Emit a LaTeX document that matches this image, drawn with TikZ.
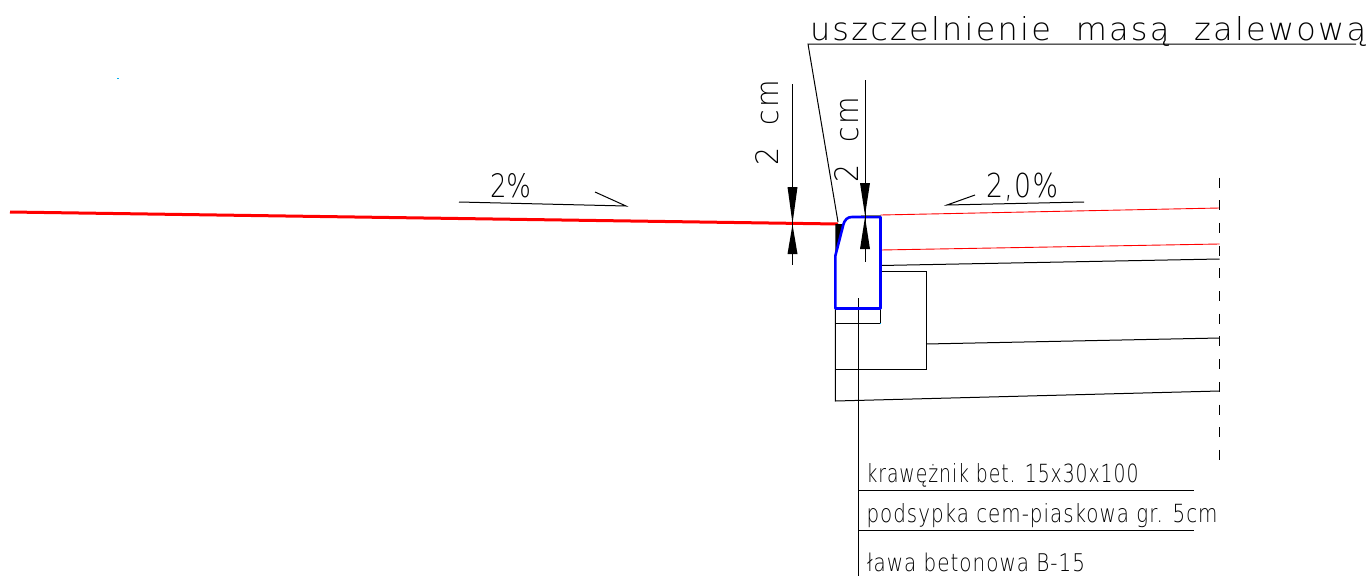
\documentclass[tikz,border=0pt]{standalone}
\usepackage{fontspec}
\usepackage{graphicx}
\setmainfont{DejaVu Sans}[UprightFont=* ExtraLight]
\newcommand{\fitt}[3]{\resizebox{#1pt}{#2pt}{#3}}
\newcommand{\wide}[1]{{\addfontfeature{LetterSpace=7}#1}}
\newcommand{\airy}[1]{{\addfontfeature{LetterSpace=5}#1}}
\tikzset{
  thinline/.style={draw=black,line width=1pt},
  redthin/.style={draw=red,line width=0.9pt},
  redthick/.style={draw=red,line width=3pt},
  curb/.style={draw=blue,line width=2.6pt,line join=round},
  head/.style={fill=black,draw=none},
  lbl/.style={anchor=base west,inner sep=0pt,outer sep=0pt,text=black},
  cutline/.style={draw=black,line width=1pt,dash pattern=on 10pt off 12.7pt},
}
\begin{document}
\begin{tikzpicture}[x=1pt,y=-1pt]
\useasboundingbox (0,0) rectangle (1369,576);
\fill[white] (0,0) rectangle (1369,576);
% reference points
\coordinate (roadL) at (10,212);
\coordinate (roadR) at (838,224);
\coordinate (cTR) at (880.5,217);
\coordinate (cBR) at (880.5,308.5);
\coordinate (cBL) at (835.3,308.5);
% layers to the right
\draw[redthin] (880.5,215) -- (1219.5,208);
\draw[redthin] (880.5,250) -- (1219.5,244);
\draw[thinline] (880.5,265.5) -- (1219.5,259);
\draw[thinline] (880.5,271.5) -- (926,271.5) -- (926,369) -- (835.3,369);
\draw[thinline] (926,344) -- (1219.5,338);
\draw[thinline] (835.3,308.5) -- (835.3,401) -- (1219.5,391);
\draw[thinline] (835.3,323.5) -- (880.5,323.5) -- (cBR);
\draw[cutline] (1219.5,177.5) -- (1219.5,460);
% road
\draw[redthick] (roadL) -- (roadR);
% sealant wedge
\fill[black] (835.3,224) -- (843.5,224) -- (835.3,256) -- cycle;
% leaders
\draw[thinline] (1356,44) -- (808,44) -- (838,222);
\draw[thinline] (858,298) -- (858,576);
\draw[thinline] (858,490) -- (1194,490);
\draw[thinline] (858,530) -- (1194,530);
% kerb
\draw[curb] (cBL) -- (835.3,256) -- (843,226) .. controls (844.5,219) and (848,217) .. (852,217) -- (cTR) -- (cBR) -- cycle;
% slope marks
\draw[thinline] (459,202) -- (626,206) -- (595,192);
\draw[thinline] (975,195) -- (947,205) -- (1084,202);
% dimensions
\draw[thinline] (792.5,84) -- (792.5,265);
\fill[head] (787.5,187) -- (797.5,187) -- (792.5,223.5) -- cycle;
\fill[head] (787.5,254) -- (797.5,254) -- (792.5,224.5) -- cycle;
\draw[thinline,draw=black!55] (861,215) -- (880.5,215);
\draw[thinline] (865,80) -- (865,262);
\fill[head] (860,183) -- (870,183) -- (865,215.5) -- cycle;
\fill[head] (860,249) -- (870,249) -- (865,217) -- cycle;
% tiny cyan points
\fill[cyan] (116.5,77.5) rectangle (118.5,79);
\fill[cyan] (880,323) rectangle (881,324);
% labels
\node[lbl] (seal) at (810,40) {\fitt{556}{24}{\wide{uszczelnienie\ \ masą\ \ zalewową}}};
\node[lbl] (s1) at (490,197) {\fitt{41}{24}{2\%}};
\node[lbl] (s2) at (986,197.5) {\fitt{72}{24.5}{\airy{2,0\%}}};
\node[lbl,rotate=90] (d1) at (778,165) {\fitt{85}{23}{\wide{2\ \ cm}}};
\node[lbl,rotate=90] (d2) at (858,182) {\fitt{85}{24}{\wide{2\ \ cm}}};
\node[lbl] (t1) at (866.5,482) {\fitt{272}{19}{\airy{krawężnik bet. 15x30x100}}};
\node[lbl] (t2) at (866.5,522) {\fitt{351}{19}{\airy{podsypka cem-piaskowa gr. 5cm}}};
\node[lbl] (t3) at (867,571) {\fitt{218}{18.5}{\airy{ława betonowa B-15}}};
\end{tikzpicture}
\end{document}
